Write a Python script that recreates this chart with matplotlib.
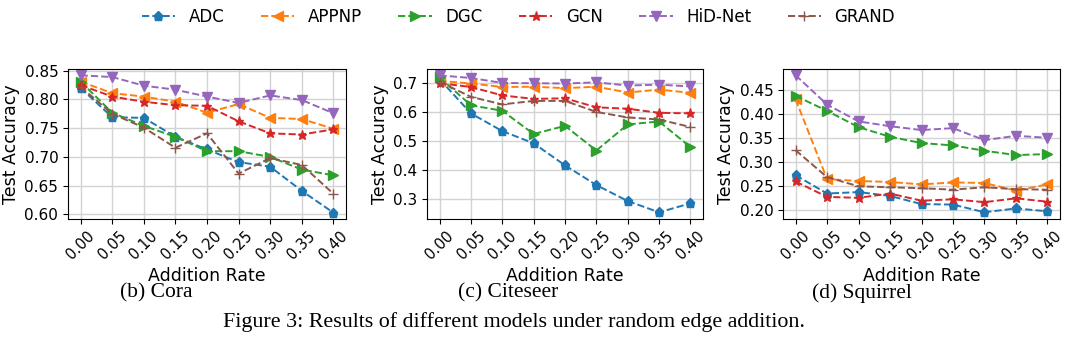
import matplotlib.pyplot as plt
from matplotlib.ticker import FormatStrFormatter

rates = [0.00, 0.05, 0.10, 0.15, 0.20, 0.25, 0.30, 0.35, 0.40]
rate_labels = ["0.00", "0.05", "0.10", "0.15", "0.20", "0.25", "0.30", "0.35", "0.40"]
models = ["ADC", "APPNP", "DGC", "GCN", "HiD-Net", "GRAND"]

cora_adc = [0.820, 0.769, 0.768, 0.735, 0.713, 0.691, 0.683, 0.641, 0.603]
cora_appnp = [0.831, 0.811, 0.805, 0.796, 0.777, 0.792, 0.768, 0.766, 0.749]
cora_dgc = [0.831, 0.777, 0.754, 0.735, 0.710, 0.710, 0.700, 0.678, 0.668]
cora_gcn = [0.825, 0.805, 0.796, 0.790, 0.789, 0.762, 0.741, 0.739, 0.748]
cora_hidnet = [0.842, 0.839, 0.824, 0.817, 0.805, 0.794, 0.807, 0.799, 0.776]
cora_grand = [0.822, 0.775, 0.751, 0.716, 0.741, 0.671, 0.698, 0.686, 0.636]

citeseer_adc = [0.714, 0.596, 0.535, 0.493, 0.417, 0.349, 0.294, 0.255, 0.286]
citeseer_appnp = [0.708, 0.699, 0.687, 0.688, 0.683, 0.688, 0.668, 0.678, 0.667]
citeseer_dgc = [0.720, 0.624, 0.605, 0.525, 0.553, 0.468, 0.558, 0.568, 0.480]
citeseer_gcn = [0.700, 0.687, 0.658, 0.646, 0.648, 0.617, 0.612, 0.598, 0.596]
citeseer_hidnet = [0.727, 0.718, 0.701, 0.700, 0.699, 0.703, 0.692, 0.695, 0.689]
citeseer_grand = [0.705, 0.653, 0.627, 0.639, 0.639, 0.601, 0.582, 0.575, 0.549]

squirrel_adc = [0.273, 0.235, 0.238, 0.230, 0.213, 0.212, 0.196, 0.204, 0.198]
squirrel_appnp = [0.431, 0.265, 0.261, 0.259, 0.254, 0.258, 0.257, 0.241, 0.254]
squirrel_dgc = [0.438, 0.407, 0.373, 0.353, 0.340, 0.335, 0.324, 0.315, 0.317]
squirrel_gcn = [0.260, 0.228, 0.226, 0.235, 0.220, 0.223, 0.217, 0.225, 0.218]
squirrel_hidnet = [0.481, 0.420, 0.385, 0.375, 0.367, 0.371, 0.346, 0.355, 0.351]
squirrel_grand = [0.325, 0.269, 0.250, 0.248, 0.246, 0.243, 0.248, 0.244, 0.243]

datasets = {
    "Cora": [cora_adc, cora_appnp, cora_dgc, cora_gcn, cora_hidnet, cora_grand],
    "Citeseer": [citeseer_adc, citeseer_appnp, citeseer_dgc, citeseer_gcn,
                 citeseer_hidnet, citeseer_grand],
    "Squirrel": [squirrel_adc, squirrel_appnp, squirrel_dgc, squirrel_gcn,
                 squirrel_hidnet, squirrel_grand],
}
captions = ["(b) Cora", "(c) Citeseer", "(d) Squirrel"]

colors = ["tab:blue", "tab:orange", "tab:green", "tab:red", "tab:purple", "tab:brown"]
markers = ["p", "<", ">", "*", "v", "+"]

W, H = 1080, 360
fig = plt.figure(figsize=(W / 100, H / 100), dpi=100)

# axes boxes in pixels: left, right, top, bottom
boxes = [(68, 346, 69, 219), (427, 703, 69, 219), (783, 1060, 69, 219)]
ylims = [(0.592, 0.853), (0.232, 0.749), (0.182, 0.494)]
yticks = [[0.60, 0.65, 0.70, 0.75, 0.80, 0.85],
          [0.3, 0.4, 0.5, 0.6, 0.7],
          [0.20, 0.25, 0.30, 0.35, 0.40, 0.45]]
yfmt = ["%.2f", "%.1f", "%.2f"]
caption_x = [156, 508, 862]

handles = []
for i, (name, series) in enumerate(datasets.items()):
    l, r, t, b = boxes[i]
    ax = fig.add_axes([l / W, 1 - b / H, (r - l) / W, (b - t) / H])
    for j, vals in enumerate(series):
        ln, = ax.plot(rates, vals, linestyle="--", color=colors[j], marker=markers[j],
                      markersize=6.5, linewidth=1.4, label=models[j])
        if i == 0:
            handles.append(ln)
    ax.set_ylim(*ylims[i])
    ax.set_xticks(rates)
    ax.set_xticklabels(rate_labels, rotation=45, fontsize=10.5)
    ax.set_yticks(yticks[i])
    ax.yaxis.set_major_formatter(FormatStrFormatter(yfmt[i]))
    ax.tick_params(axis="y", labelsize=11)
    ax.grid(True, color="#d3d3d3", linewidth=1)
    ax.set_axisbelow(True)
    ax.set_xlabel("Addition Rate", fontsize=12.5, labelpad=3)
    ax.set_ylabel("Test Accuracy", fontsize=12.5, labelpad=3)
    fig.text(caption_x[i] / W, 1 - 293 / H, captions[i], ha="center", va="center",
             fontsize=15.5, family="Liberation Serif")

fig.legend(handles=handles, loc="center", bbox_to_anchor=(0.48, 1 - 17 / H), ncol=6,
           frameon=False, fontsize=12, columnspacing=2.2, handlelength=2)

fig.text(514 / W, 1 - 322 / H, "Figure 3: Results of different models under random edge addition.",
         ha="center", va="center", fontsize=15.8, family="Liberation Serif")

fig.savefig("out.png", dpi=100)
